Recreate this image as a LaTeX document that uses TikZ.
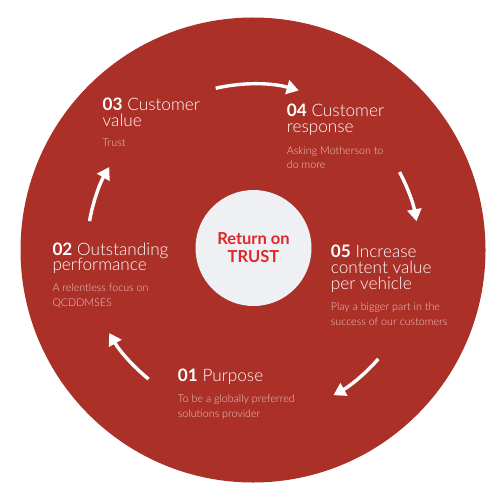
\documentclass[tikz,border=0pt]{standalone}
\usepackage{fontspec}
\setmainfont{Lato}
\newfontfamily\lightf{Lato Light}
\usetikzlibrary{arrows.meta,calc}
\definecolor{brick}{RGB}{170,48,40}
\definecolor{pale}{RGB}{238,240,243}
\definecolor{trust}{RGB}{224,38,42}
\definecolor{soft}{RGB}{238,202,196}
\newcommand\stepnum[1]{{\rmfamily\bfseries #1}}
\begin{document}
\begin{tikzpicture}[x=1pt,y=-1pt,
  head/.style={anchor=base west, inner sep=0pt, align=left, text=white, font=\lightf\fontsize{17.2}{15.7}\selectfont},
  body/.style={anchor=base west, inner sep=0pt, align=left, text=soft, font=\lightf\fontsize{10.7}{14.5}\selectfont},
  arr/.style={white, line width=3.4pt, -{Triangle[width=14pt,length=12pt]}}]
\useasboundingbox[fill=white] (0,0) rectangle (500,500);
\coordinate (c) at (253,250);
\fill[brick] (c) circle (232.5);
\node[circle, fill=pale, minimum size=116pt, inner sep=0pt] (core) at (253.5,248) {};
\node[anchor=base, inner sep=0pt, align=center, text=trust, font=\bfseries\fontsize{16.5}{18.7}\selectfont] (ret) at (253.5,262.7) {Return on\\TRUST};
% blocks (anchored at the baseline of the last line)
\node[head] (h3) at (102.5,126.2) {\stepnum{03} Customer\\value};
\node[body] (b3) at (102.5,146) {Trust};
\node[head] (h4) at (286.7,132.4) {\stepnum{04} Customer\\response};
\node[body] (b4) at (286.7,168.5) {Asking Motherson to\\do more};
\node[head] (h2) at (52.3,270.7) {\stepnum{02} Outstanding\\performance};
\node[body] (b2) at (52.3,306.2) {A relentless focus on\\QCDDMSES};
\node[head] (h5) at (330.7,289.1) {\stepnum{05} Increase\\content value\\per vehicle};
\node[body] (b5) at (330.7,325.2) {Play a bigger part in the\\success of our customers};
\node[head] (h1) at (177.7,381) {\stepnum{01} Purpose};
\node[body] (b1) at (177.7,417.2) {To be a globally preferred\\solutions provider};
% arrows
\draw[arr] ($(c)+(-103:166)$) arc[start angle=-103, end angle=-74, radius=166];
\draw[arr] ($(c)+(-28:166)$) arc[start angle=-28, end angle=-10, radius=166];
\draw[arr] ($(c)+(41:166)$) arc[start angle=41, end angle=61, radius=166];
\draw[arr] ($(c)+(129:166)$) arc[start angle=129, end angle=150, radius=166];
\draw[arr] ($(c)+(190:166)$) arc[start angle=190, end angle=210, radius=166];
\end{tikzpicture}
\end{document}
